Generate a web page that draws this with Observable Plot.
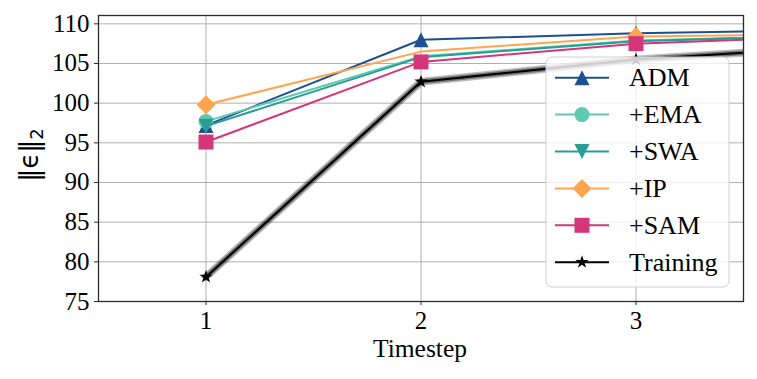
<!DOCTYPE html>
<html>
<head>
<meta charset="utf-8">
<script src="https://cdn.jsdelivr.net/npm/d3@7"></script>
<script src="https://cdn.jsdelivr.net/npm/@observablehq/plot@0.6"></script>
<style>
  html, body { margin: 0; padding: 0; background: #fff; }
  #chart { width: 757px; height: 379px; }
  #chart svg text { font-family: "Liberation Serif", "Times New Roman", serif; }
  #chart svg g[aria-label="x-axis tick label"] text,
  #chart svg g[aria-label="y-axis tick label"] text { font-size: 25px !important; fill: #000; }
  #chart svg text.ylab { font-family: "DejaVu Sans", sans-serif; }
</style>
</head>
<body>
<div id="chart"></div>
<script>
// ---- Data ----
const timesteps = [1, 2, 3, 4];
const seriesNames = ["ADM", "+EMA", "+SWA", "+IP", "+SAM", "Training"];
const admValues      = [97.2, 108.0, 108.8, 109.3];
const emaValues      = [97.7, 105.9, 107.9, 108.6];
const swaValues      = [97.1, 105.8, 107.8, 108.6];
const ipValues       = [99.8, 106.5, 108.4, 108.7];
const samValues      = [95.1, 105.2, 107.5, 108.5];
const trainingValues = [78.1, 102.7, 105.5, 107.2];
// timesteps at which a marker is visible in the reference
const admMarked      = [1, 2, 3, 4];
const emaMarked      = [1, 4];
const swaMarked      = [1, 4];
const ipMarked       = [1, 3, 4];
const samMarked      = [1, 2, 3, 4];
const trainingMarked = [1, 2, 3, 4];
const xTicks = [1, 2, 3];
const yTicks = [75, 80, 85, 90, 95, 100, 105, 110];
const xLabel = "Timestep";

// ---- Styles ----
const colors = ["#1d4f93", "#5fcab0", "#289d98", "#ffa54f", "#d3367a", "#000000"];
const allValues = [admValues, emaValues, swaValues, ipValues, samValues, trainingValues];
const allMarked = [admMarked, emaMarked, swaMarked, ipMarked, samMarked, trainingMarked];

// matplotlib-like marker shapes (size passed by Plot is r*r*PI)
const hOf = size => Math.sqrt(size / Math.PI);
const symTriUp = {draw(c, size) { const h = hOf(size); c.moveTo(0, -h); c.lineTo(h, h); c.lineTo(-h, h); c.closePath(); }};
const symTriDown = {draw(c, size) { const h = hOf(size); c.moveTo(0, h); c.lineTo(h, -h); c.lineTo(-h, -h); c.closePath(); }};
const symCircle = {draw(c, size) { const h = hOf(size); c.moveTo(h, 0); c.arc(0, 0, h, 0, 2 * Math.PI); }};
const symDiamond = {draw(c, size) { const h = hOf(size); c.moveTo(0, -h); c.lineTo(h, 0); c.lineTo(0, h); c.lineTo(-h, 0); c.closePath(); }};
const symSquare = {draw(c, size) { const h = hOf(size); c.rect(-h, -h, 2 * h, 2 * h); }};
const symStar = {draw(c, size) {
  const R = hOf(size), r = R * 0.381966;
  for (let i = 0; i < 10; i++) {
    const rad = i % 2 === 0 ? R : r;
    const a = -Math.PI / 2 + i * Math.PI / 5;
    const px = rad * Math.cos(a), py = rad * Math.sin(a);
    if (i === 0) c.moveTo(px, py); else c.lineTo(px, py);
  }
  c.closePath();
}};
const symbols = [symTriUp, symCircle, symTriDown, symDiamond, symSquare, symStar];
const radii = [7.5, 7.5, 7.5, 9.5, 7.5, 7];

const tables = seriesNames.map((name, i) =>
  timesteps.map((t, j) => ({series: name, t, v: allValues[i][j]})));

const FONT = "'Liberation Serif', 'Times New Roman', serif";

const marks = [
  Plot.gridX(xTicks, {stroke: "#b0b0b0", strokeOpacity: 1, strokeWidth: 1}),
  Plot.gridY(yTicks, {stroke: "#b0b0b0", strokeOpacity: 1, strokeWidth: 1}),
];
seriesNames.forEach((name, i) => {
  const data = tables[i];
  if (name === "Training") {
    marks.push(Plot.line(data, {x: "t", y: "v", stroke: "#000", strokeOpacity: 0.25, strokeWidth: 8, clip: true}));
    marks.push(Plot.line(data, {x: "t", y: "v", stroke: "#000", strokeOpacity: 0.4, strokeWidth: 5, clip: true}));
  }
  marks.push(Plot.line(data, {x: "t", y: "v", stroke: colors[i], strokeWidth: 2, clip: true}));
  marks.push(Plot.dot(data.filter(d => allMarked[i].includes(d.t)),
    {x: "t", y: "v", symbol: symbols[i], r: radii[i], fill: colors[i], stroke: "none", clip: true}));
});
marks.push(
  Plot.frame({stroke: "#2a2a2a", strokeWidth: 1.3}),
  Plot.axisX(xTicks, {tickSize: 4, tickPadding: 6, fontSize: 25, fill: "#000", stroke: "#2a2a2a",
    tickFormat: d => String(d), label: null}),
  Plot.axisY(yTicks, {tickSize: 4, tickPadding: 5, fontSize: 25, fill: "#000", stroke: "#2a2a2a",
    tickFormat: d => String(d), label: null})
);

const chart = Plot.plot({
  width: 757,
  height: 379,
  marginLeft: 98,
  marginRight: 14,
  marginTop: 15,
  marginBottom: 78,
  style: {fontFamily: FONT, fontSize: "25px", background: "#fff", overflow: "visible"},
  x: {domain: [0.5, 3.5]},
  y: {domain: [75, 111.05]},
  marks
});
document.getElementById("chart").appendChild(chart);

const svg = d3.select(chart);

// ---- x-axis label ----
svg.append("text")
  .attr("x", 420).attr("y", 357)
  .attr("text-anchor", "middle")
  .attr("font-size", 25.5)
  .attr("fill", "#000")
  .text(xLabel);

// ---- y-axis label with subscript ----
const yl = svg.append("text")
  .attr("class", "ylab")
  .attr("transform", "translate(38,155) rotate(-90)")
  .attr("text-anchor", "middle")
  .attr("font-size", 26)
  .attr("fill", "#000");
yl.append("tspan").text("\u2016\u03f5\u2016");
yl.append("tspan").attr("font-size", 18).attr("dy", 5).text("2");

// ---- legend ----
const lg = svg.append("g");
lg.append("rect").attr("x", 546).attr("y", 57).attr("width", 183).attr("height", 230)
  .attr("rx", 6).attr("fill", "#fff").attr("fill-opacity", 0.8).attr("stroke", "#d0d0d0").attr("stroke-width", 1);
seriesNames.forEach((name, i) => {
  const cy = 77.7 + i * 36.9;
  const g = lg.append("g");
  g.append("line").attr("x1", 555).attr("x2", 609).attr("y1", cy).attr("y2", cy)
    .attr("stroke", colors[i]).attr("stroke-width", 2);
  g.append("path").attr("transform", `translate(582,${cy})`)
    .attr("d", d3.symbol(symbols[i], radii[i] * radii[i] * Math.PI)())
    .attr("fill", colors[i]);
  g.append("text").attr("x", 629).attr("y", cy).attr("dy", "0.33em")
    .attr("text-anchor", "start")
    .attr("font-size", 26).attr("fill", "#000").text(name);
});
</script>
</body>
</html>
